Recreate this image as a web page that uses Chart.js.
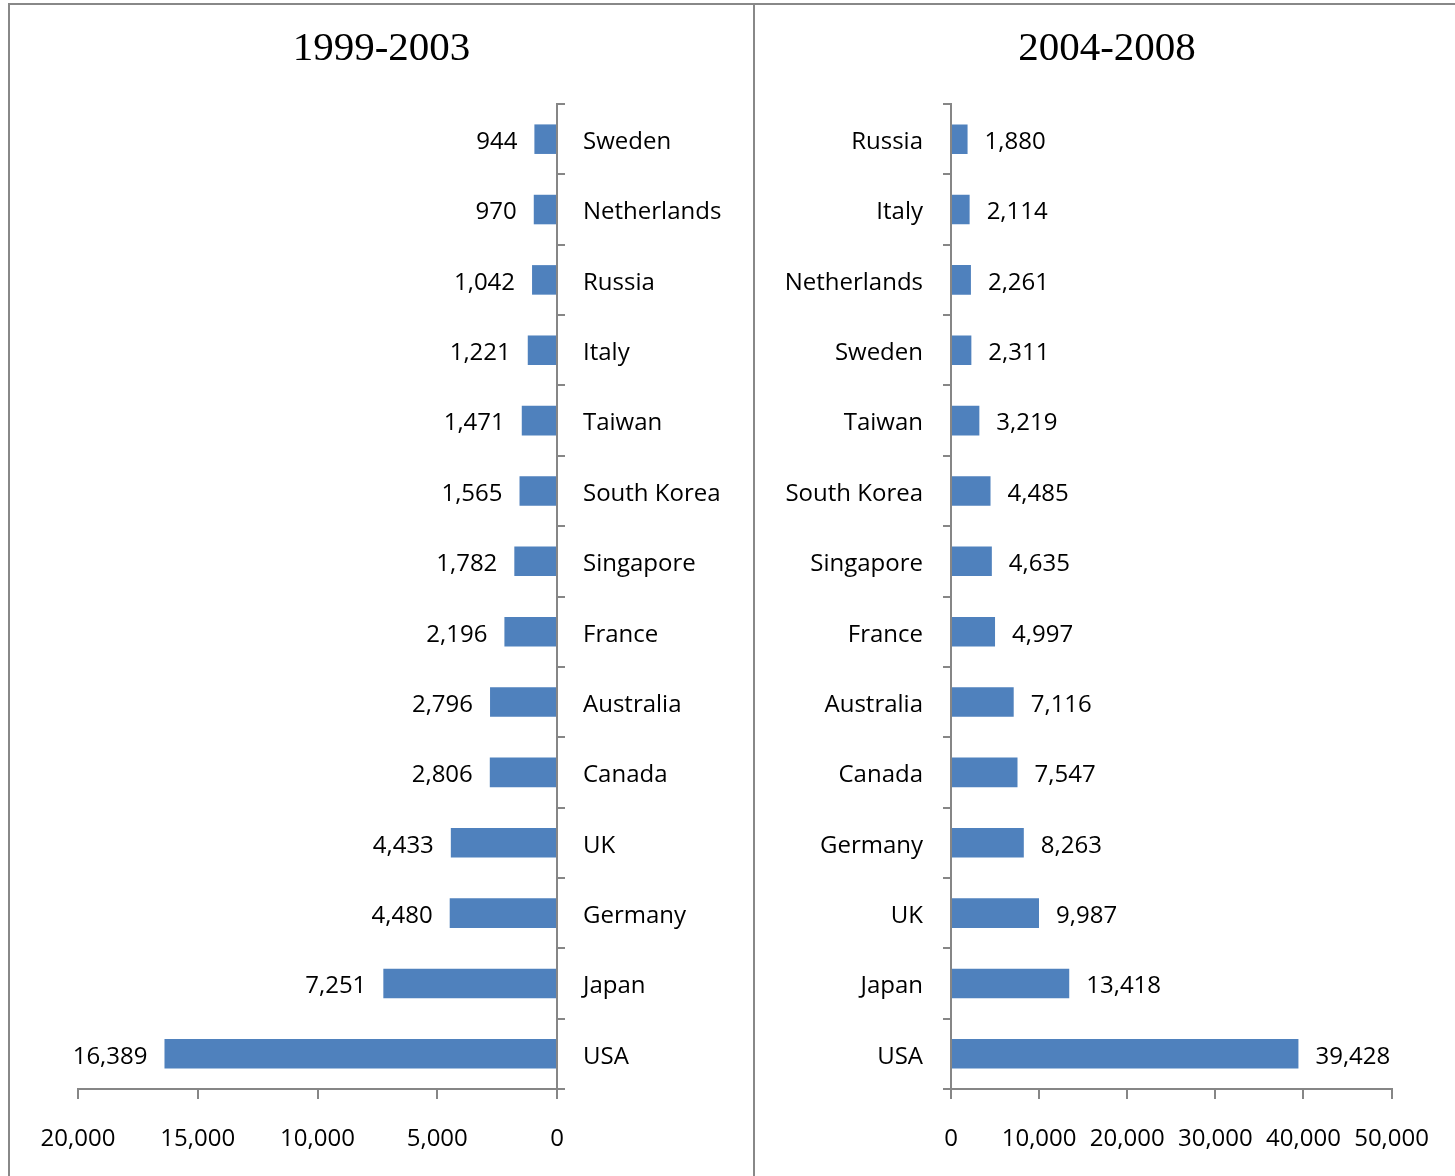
<!DOCTYPE html>
<html>
<head>
<meta charset="utf-8">
<script src="https://cdn.jsdelivr.net/npm/chart.js@4.4.0/dist/chart.umd.min.js"></script>
<style>
  body { margin: 0; background: #fff; }
  #frame { position: absolute; left: 8px; top: 3px; width: 1447px; height: 1173px;
           border-top: 2px solid #888; border-left: 2px solid #888; }
  #divider { position: absolute; left: 753px; top: 3px; width: 2px; height: 1173px; background: #888; }
  #left { position: absolute; left: 10px; top: 6px; }
  #right { position: absolute; left: 755px; top: 6px; }
</style>
</head>
<body>
<div id="frame"></div>
<div id="divider"></div>
<canvas id="left" width="743" height="1170"></canvas>
<canvas id="right" width="700" height="1170"></canvas>
<script>
// 1999-2003
const countriesA = ["Sweden", "Netherlands", "Russia", "Italy", "Taiwan", "South Korea", "Singapore",
                    "France", "Australia", "Canada", "UK", "Germany", "Japan", "USA"];
const valuesA = [944, 970, 1042, 1221, 1471, 1565, 1782, 2196, 2796, 2806, 4433, 4480, 7251, 16389];

// 2004-2008
const countriesB = ["Russia", "Italy", "Netherlands", "Sweden", "Taiwan", "South Korea", "Singapore",
                    "France", "Australia", "Canada", "Germany", "UK", "Japan", "USA"];
const valuesB = [1880, 2114, 2261, 2311, 3219, 4485, 4635, 4997, 7116, 7547, 8263, 9987, 13418, 39428];

const titles = ["1999-2003", "2004-2008"];

const AXIS = "#868686";
const BAR = "#4F81BD";
const labelFont = { family: "Open Sans", size: 24 };
const fmt = v => Number(v).toLocaleString("en-US");

// panel title, centred on the whole panel rather than the plot area
const panelTitle = {
  id: "panelTitle",
  afterDraw(chart, args, opts) {
    const ctx = chart.ctx;
    ctx.save();
    ctx.font = "41px 'Liberation Serif'";
    ctx.fillStyle = "#000";
    ctx.textAlign = "center";
    ctx.textBaseline = "middle";
    ctx.fillText(opts.text, chart.width / 2 + opts.dx, 43);
    ctx.restore();
  }
};

// draws the value next to the end of each bar
const valueLabels = {
  id: "valueLabels",
  afterDatasetsDraw(chart, args, opts) {
    const ctx = chart.ctx;
    const meta = chart.getDatasetMeta(0);
    ctx.save();
    ctx.font = labelFont.size + "px " + labelFont.family;
    ctx.fillStyle = "#000";
    ctx.textBaseline = "middle";
    meta.data.forEach((bar, i) => {
      const txt = fmt(chart.data.datasets[0].data[i]);
      if (opts.side === "left") {
        ctx.textAlign = "right";
        ctx.fillText(txt, bar.x - opts.gap, bar.y + 3);
      } else {
        ctx.textAlign = "left";
        ctx.fillText(txt, bar.x + opts.gap, bar.y + 3);
      }
    });
    ctx.restore();
  }
};

function makeChart(id, labels, values, title, opts) {
  return new Chart(document.getElementById(id), {
    type: "bar",
    data: {
      labels: labels,
      datasets: [{
        data: values,
        backgroundColor: BAR,
        borderWidth: 0,
        categoryPercentage: 1,
        barPercentage: 0.42
      }]
    },
    plugins: [valueLabels, panelTitle],
    options: {
      indexAxis: "y",
      responsive: false,
      animation: false,
      devicePixelRatio: 1,
      layout: { padding: opts.padding },
      plugins: {
        legend: { display: false },
        tooltip: { enabled: false },
        title: { display: false },
        panelTitle: { text: title, dx: opts.titleDx },
        valueLabels: { side: opts.side, gap: 17 }
      },
      scales: {
        x: {
          min: 0,
          max: opts.max,
          reverse: opts.reverse,
          ticks: { stepSize: opts.step, callback: fmt, color: "#000", font: labelFont, padding: 26, maxRotation: 0 },
          grid: { drawOnChartArea: false, tickLength: 10, color: AXIS, lineWidth: 2 },
          border: { color: AXIS, width: 2 },
          afterFit: s => { s.height = 87; }
        },
        y: {
          position: opts.yPos,
          ticks: { color: "#000", font: labelFont, padding: opts.yPad, autoSkip: false, labelOffset: 3 },
          grid: { drawOnChartArea: false, tickLength: 8, color: AXIS, lineWidth: 2, offset: true },
          border: { color: AXIS, width: 2 },
          afterFit: s => { s.width = 196; }
        }
      }
    }
  });
}

makeChart("left", countriesA, valuesA, titles[0], {
  max: 20000, step: 5000, reverse: true, yPos: "right", yPad: 18, side: "left", titleDx: 0,
  padding: { left: 68, right: 0, top: 98, bottom: 0 }
});
makeChart("right", countriesB, valuesB, titles[1], {
  max: 50000, step: 10000, reverse: false, yPos: "left", yPad: 20, side: "right", titleDx: 2,
  padding: { left: 0, right: 62, top: 98, bottom: 0 }
});
</script>
</body>
</html>
